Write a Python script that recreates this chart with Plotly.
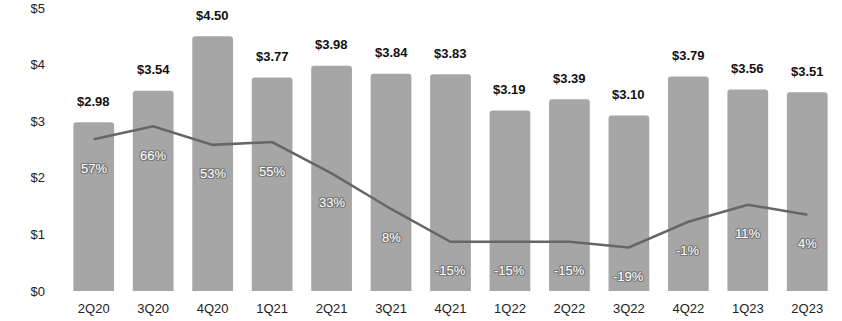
import plotly.graph_objects as go

quarters = ["2Q20", "3Q20", "4Q20", "1Q21", "2Q21", "3Q21", "4Q21",
            "1Q22", "2Q22", "3Q22", "4Q22", "1Q23", "2Q23"]
eps = [2.98, 3.54, 4.50, 3.77, 3.98, 3.84, 3.83, 3.19, 3.39, 3.10, 3.79, 3.56, 3.51]
growth_pct = [57, 66, 53, 55, 33, 8, -15, -15, -15, -19, -1, 11, 4]
y_ticks = [0, 1, 2, 3, 4, 5]

FONT = "Liberation Sans, Arial, sans-serif"
BAR_COLOR = "#a6a6a6"
LINE_COLOR = "#666666"
OUTLINE = ("1px 0 0 #7a7a7a, -1px 0 0 #7a7a7a, 0 1px 0 #7a7a7a, 0 -1px 0 #7a7a7a, "
           "1px 1px 0 #7a7a7a, -1px -1px 0 #7a7a7a, 1px -1px 0 #7a7a7a, -1px 1px 0 #7a7a7a")

fig = go.Figure()

fig.add_trace(go.Bar(
    x=quarters, y=eps, marker=dict(color=BAR_COLOR, line=dict(width=0)),
    hoverinfo="skip", showlegend=False,
))

fig.add_trace(go.Scatter(
    x=quarters, y=growth_pct, yaxis="y2", mode="lines",
    line=dict(color=LINE_COLOR, width=2.5), hoverinfo="skip", showlegend=False,
))

annotations = []
for q, v in zip(quarters, eps):
    annotations.append(dict(
        x=q, y=v, xref="x", yref="y", text=f"<b>${v:.2f}</b>", showarrow=False,
        yanchor="middle", yshift=21,
        font=dict(family=FONT, size=13, color="#111111"),
    ))
for q, p in zip(quarters, growth_pct):
    annotations.append(dict(
        x=q, y=p, xref="x", yref="y2", text=f"{p}%", showarrow=False,
        yanchor="middle", yshift=-29,
        font=dict(family=FONT, size=13, color="#ffffff", shadow=OUTLINE),
    ))

fig.update_layout(
    width=842, height=321,
    margin=dict(l=64, r=5, t=8, b=30, autoexpand=False),
    paper_bgcolor="white", plot_bgcolor="white",
    bargap=0.315, barcornerradius=3,
    font=dict(family=FONT, size=13, color="#222222"),
    xaxis=dict(showgrid=False, zeroline=False, showline=False, ticks="", automargin=False,
               tickfont=dict(size=13, color="#222222"), ticklabelstandoff=8),
    yaxis=dict(range=[0, 5], tickvals=y_ticks, ticktext=[f"${t}" for t in y_ticks],
               showgrid=False, zeroline=False, showline=False, ticks="", automargin=False,
               tickfont=dict(size=13, color="#222222"), ticklabelstandoff=18),
    yaxis2=dict(range=[-49.6, 149.1], overlaying="y", side="right", visible=False,
                showgrid=False, zeroline=False, automargin=False),
    annotations=annotations,
)

fig.write_html("out.html")
